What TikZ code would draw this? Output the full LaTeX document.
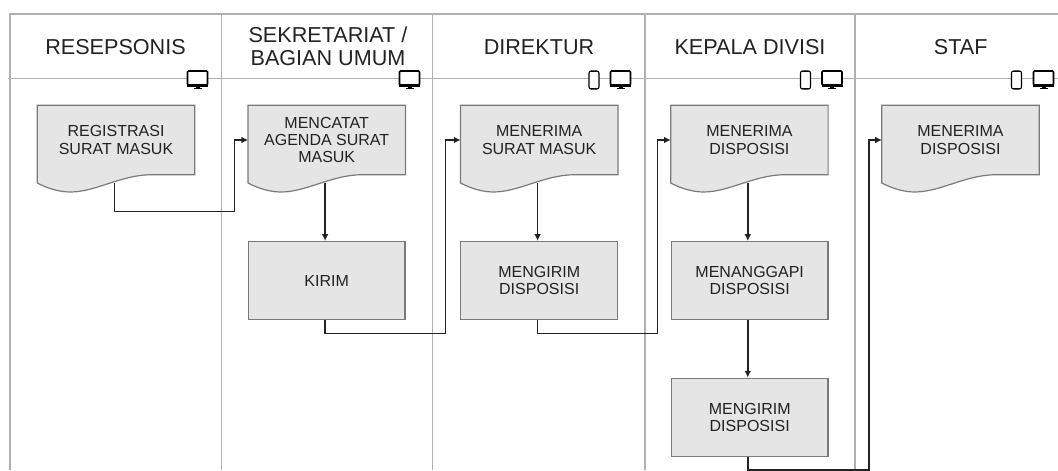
\documentclass[tikz,border=0pt]{standalone}
\usepackage{fontspec}
\setmainfont{Liberation Sans}
\usetikzlibrary{arrows.meta}
\definecolor{lane}{HTML}{B0B0B0}
\definecolor{boxfill}{HTML}{E5E5E5}
\definecolor{boxline}{HTML}{7A7A7A}
\definecolor{ink}{HTML}{222222}
\tikzset{
  x=0.75pt,y=-0.75pt,
  lane/.style={draw=lane,line width=1.3pt},
  head/.style={font=\fontsize{16.2}{17.5}\selectfont,text=ink,align=center,inner sep=0pt},
  boxtext/.style={font=\fontsize{12}{13}\selectfont,text=ink,align=center,inner sep=0pt},
  procbox/.style={boxtext,draw=boxline,fill=boxfill,line width=0.9pt,minimum width=117.5pt,minimum height=58.5pt},
  docbox/.style={boxtext,minimum width=117.5pt,minimum height=52pt},
  docshape/.style={draw=boxline,fill=boxfill,line width=0.9pt},
  flow/.style={draw=ink,line width=1.1pt,-{Latex[length=5pt,width=5pt]}},
  monitor/.pic={
    \draw[black,line width=1.2pt,fill=white,rounded corners=0.8pt] (-10,-9) rectangle (10,5);
    \fill[black] (-10.5,4.5) rectangle (10.5,6.8);
    \fill[black] (-2,6) rectangle (2,8);
    \fill[black] (-4,8) rectangle (4,9.3);
  },
  phone/.pic={
    \draw[black,line width=0.8pt,fill=white,rounded corners=1.5pt] (-5,-9) rectangle (5,9);
    \fill[black] (-4.5,-9.3) rectangle (4.5,-8);
    \fill[black] (-4.5,7.8) rectangle (4.5,9.3);
  }
}
\newcommand{\docnode}[3]{%
  \begin{scope}[shift={(#2-78.7,105.3)}]
    \path[docshape] (0,0) -- (157.4,0) -- (157.4,69.4) -- (113,69.4)
      .. controls (83,70) and (58,86.7) .. (33,86.7)
      .. controls (22,86.7) and (10,83) .. (0,77.7) -- cycle;
  \end{scope}
  \node[docbox] (#1) at (#2,140) {#3};
  \coordinate (#1w) at ([shift={(77,8.5)}]#1.south west);
}
\begin{document}
\begin{tikzpicture}
\useasboundingbox (0,0) rectangle (1058,471);
% lanes
\coordinate (tl) at (10.3,13.7);
\coordinate (tr) at (1058,13.7);
\coordinate (hl) at (8,78.7);
\coordinate (hr) at (1058,78.7);
\draw[lane] (tr) -- (tl) -- (10.3,470);
\draw[lane,line width=1pt] (hl) -- (hr);
\foreach \x in {221.7,432.7,645,855} \draw[lane,line width=1pt] (\x,13.7) -- (\x,470);
% headers
\node[head] (h1) at (115.5,47) {RESEPSONIS};
\node[head] (h2) at (328,46.5) {SEKRETARIAT /\\BAGIAN UMUM};
\node[head] (h3) at (539,47) {DIREKTUR};
\node[head] (h4) at (750,47) {KEPALA DIVISI};
\node[head] (h5) at (960.7,47) {STAF};
% icons
\pic at (197.5,80) {monitor};
\pic at (409.5,80) {monitor};
\pic at (594,80) {phone};
\pic at (620.5,80) {monitor};
\pic at (805.5,80) {phone};
\pic at (832,80) {monitor};
\pic at (1016.5,80) {phone};
\pic at (1043.5,80) {monitor};
% boxes
\docnode{a}{116}{REGISTRASI\\SURAT MASUK}
\docnode{b}{326.7}{MENCATAT\\AGENDA SURAT\\MASUK}
\docnode{c}{539.2}{MENERIMA\\SURAT MASUK}
\docnode{d}{749.4}{MENERIMA\\DISPOSISI}
\docnode{e}{960.5}{MENERIMA\\DISPOSISI}
\node[procbox] (k) at (326.7,280.5) {KIRIM};
\node[procbox] (m) at (539.2,280.5) {MENGIRIM\\DISPOSISI};
\node[procbox] (t) at (749.7,280.5) {MENANGGAPI\\DISPOSISI};
\node[procbox] (n) at (749.7,417.2) {MENGIRIM\\DISPOSISI};
% connectors
\draw[flow] (aw) |- (234.3,211.7) |- (b.west);
\draw[flow] (bw) -- (bw |- k.north);
\draw[flow] (k.south -| bw) |- (445.3,333.7) |- (c.west);
\draw[flow] (cw) -- (cw |- m.north);
\draw[flow] (m.south -| cw) |- (657.3,333.7) |- (d.west);
\draw[flow] (dw) -- (dw |- t.north);
\draw[flow] (t.south -| dw) -- (dw |- n.north);
\draw[flow] (n.south -| dw) |- (869,470) |- (e.west);
\end{tikzpicture}
\end{document}
